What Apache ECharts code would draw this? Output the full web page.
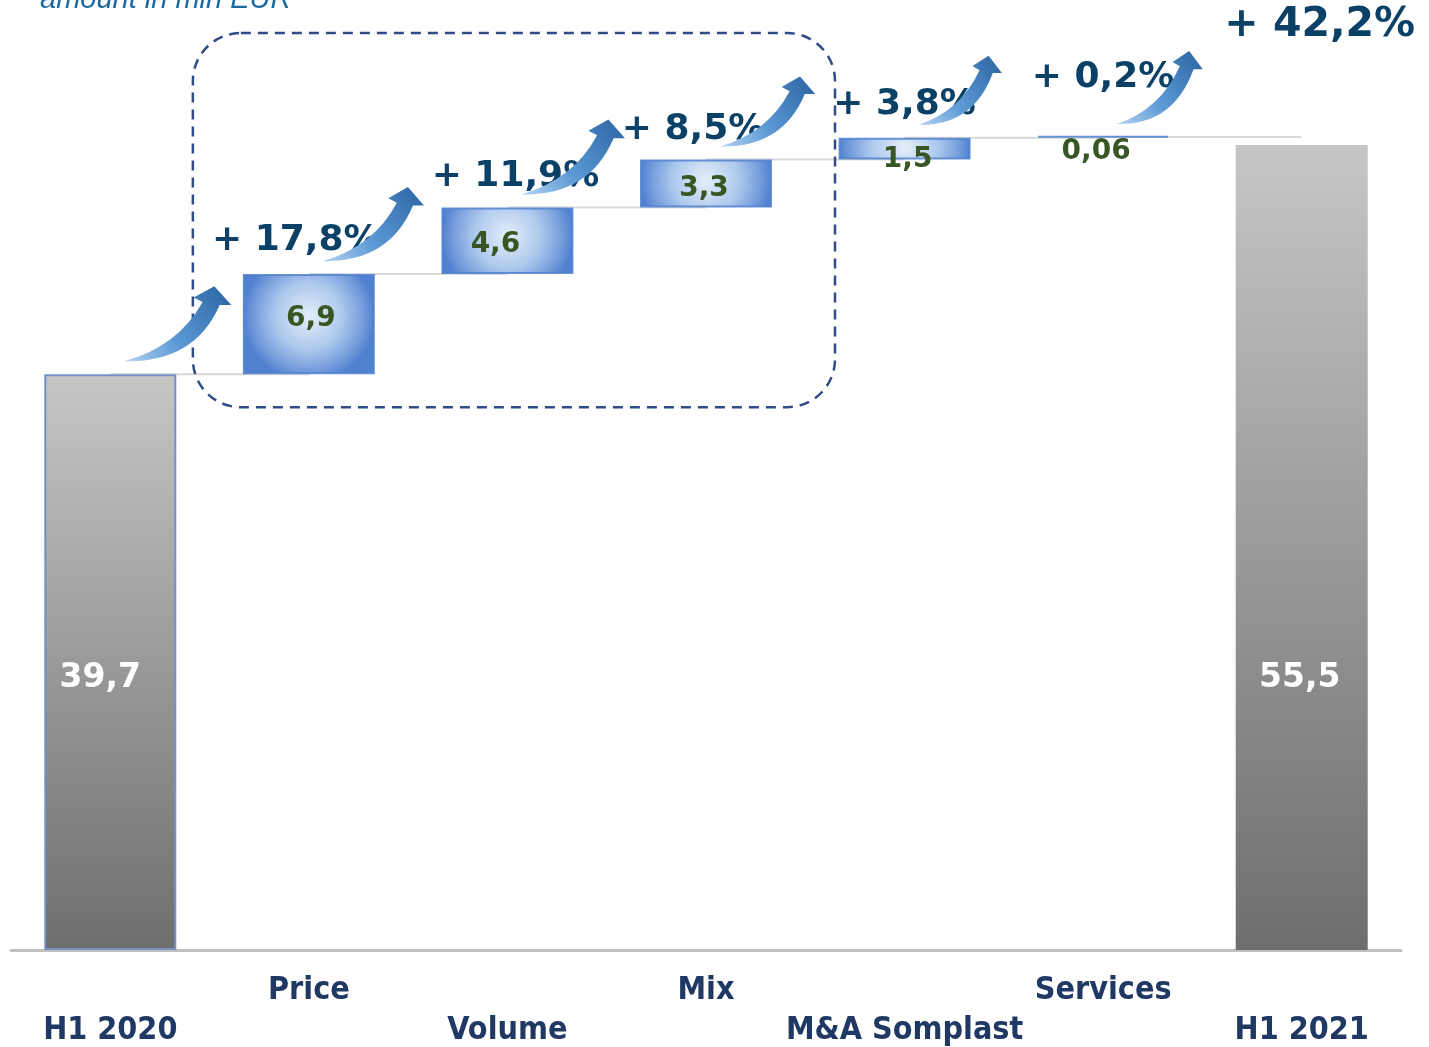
<!DOCTYPE html>
<html>
<head>
<meta charset="utf-8">
<script src="https://cdn.jsdelivr.net/npm/echarts@6/dist/echarts.min.js"></script>
<style>
  html, body { margin: 0; padding: 0; background: #fff; }
  #main { width: 1429px; height: 1047px; }
</style>
</head>
<body>
<div id="main"></div>
<script>
// data
const categories = ['H1 2020', 'Price', 'Volume', 'Mix', 'M&A Somplast', 'Services', 'H1 2021'];
const startValue = 39.7;
const deltas = [6.9, 4.6, 3.3, 1.5, 0.06];
const endValue = 55.5;
const valueLabels = ['39,7', '6,9', '4,6', '3,3', '1,5', '0,06', '55,5'];
const pctLabels = ['+ 17,8%', '+ 11,9%', '+ 8,5%', '+ 3,8%', '+ 0,2%', '+ 42,2%'];

// layout tweaks (pixels), not data
const pctOffsets = [[-13, -33], [8, -31], [-13, -30], [0, -33], [0, -59], [18, -120]];
const arrowSizes = [[90, 75], [85, 74], [87, 75], [80, 70], [70, 69], [72, 73]];
const valueOffsets = [[-10, 0], [2, -5], [-12, 4], [-2, 5], [3, 11], [-7, 15], [-2, 0]];

const FONT = '"DejaVu Sans", Verdana, sans-serif';
const NAVY = '#0b4166';
const Y_MAX = 65.5;
const PLOT_H = 950;
const BAR_W = 132;

// waterfall bases/tops built from the values
const bases = [0];
const tops = [startValue];
let run = startValue;
deltas.forEach(d => { bases.push(run); run += d; tops.push(run); });
bases.push(0);
tops.push(endValue);
const heights = [startValue, ...deltas, endValue];

const grayFill = new echarts.graphic.LinearGradient(0, 0, 0, 1, [
  { offset: 0, color: '#c6c6c6' },
  { offset: 1, color: '#6e6e6e' }
]);
// radial glow whose radius is half the bar width, so the sides reach full blue
const blueFill = (v) => {
  const h = Math.max(2, v * PLOT_H / Y_MAX);
  const r = (BAR_W / 2) / Math.min(BAR_W, h);
  return new echarts.graphic.RadialGradient(0.5, 0.42, r, [
    { offset: 0, color: '#e4eefa' },
    { offset: 0.5, color: '#adc9ed' },
    { offset: 0.85, color: '#7099da' },
    { offset: 1, color: '#5080d0' }
  ]);
};

const barData = heights.map((v, i) => {
  const isTotal = i === 0 || i === heights.length - 1;
  return {
    value: v,
    itemStyle: isTotal
      ? { color: grayFill, borderColor: i === 0 ? '#7591c6' : 'rgba(0,0,0,0)', borderWidth: i === 0 ? 2 : 0 }
      : { color: blueFill(v), borderColor: 'rgba(80,128,208,0.85)', borderWidth: 2 },
    label: isTotal
      ? { show: true, position: 'insideBottom', distance: 255, offset: valueOffsets[i],
          formatter: valueLabels[i], color: '#ffffff', fontSize: 33, fontWeight: 'bold', fontFamily: FONT }
      : { show: true, position: 'inside', offset: valueOffsets[i],
          formatter: valueLabels[i], color: '#375623', fontSize: 28, fontWeight: 'bold', fontFamily: FONT }
  };
});

function arrowPath(tx, ty, w, h) {
  const p = (u, v) => (tx + u * w).toFixed(1) + ' ' + (ty - (1 - v) * h).toFixed(1);
  return 'M' + p(0, 1) +
    ' Q' + p(0.78, 1.02) + ' ' + p(1.06, 0.25) +
    ' L' + p(1.19, 0.25) +
    ' L' + p(1.0, 0) +
    ' L' + p(0.77, 0.15) +
    ' L' + p(0.87, 0.21) +
    ' Q' + p(0.6, 0.8) + ' ' + p(0, 1) + ' Z';
}

const connectorData = tops.slice(0, tops.length - 1).map((t, i) => [i, t]);
const pctData = pctLabels.map((s, k) => [k + 1, tops[k + 1], tops[k], k]);

const chart = echarts.init(document.getElementById('main'));
chart.setOption({
  animation: false,
  grid: { left: 11, right: 28, top: 0, bottom: 97 },
  graphic: [{
    type: 'text', left: 40, top: -15,
    style: { text: 'amount in mln EUR', fontSize: 29, fontStyle: 'italic', fontFamily: '"Liberation Sans", Arial, sans-serif', fill: '#1a6aa0' }
  }],
  xAxis: {
    type: 'category',
    data: categories,
    axisLine: { lineStyle: { color: '#c0c0c0', width: 3 } },
    axisTick: { show: false },
    axisLabel: {
      interval: 0,
      margin: 25,
      formatter: (v, idx) => (idx % 2 ? '{hi|' + v + '}' : '{lo|' + v + '}'),
      rich: {
        hi: { fontSize: 32, fontWeight: 'bold', fontFamily: '"DejaVu Sans Condensed", ' + FONT, color: '#1f3864' },
        lo: { fontSize: 32, fontWeight: 'bold', fontFamily: '"DejaVu Sans Condensed", ' + FONT, color: '#1f3864', padding: [40, 0, 0, 0] }
      }
    }
  },
  yAxis: { type: 'value', min: 0, max: Y_MAX, show: false, splitLine: { show: false } },
  series: [
    {
      type: 'custom',
      z: 1,
      silent: true,
      data: connectorData,
      renderItem: (params, api) => {
        const a = api.coord([api.value(0), api.value(1)]);
        const b = api.coord([api.value(0) + 1, api.value(1)]);
        return { type: 'line', shape: { x1: a[0], y1: a[1], x2: b[0], y2: b[1] },
          style: { stroke: '#d9d9d9', lineWidth: 2 } };
      }
    },
    {
      type: 'bar', stack: 'w', barWidth: BAR_W, z: 2, silent: true,
      itemStyle: { color: 'rgba(0,0,0,0)' },
      data: bases
    },
    {
      type: 'bar', stack: 'w', barWidth: BAR_W, z: 2, barMinHeight: 2,
      data: barData
    },
    {
      // dashed frame round Price .. Mix
      type: 'custom',
      z: 3,
      silent: true,
      data: [[1, 3, startValue]],
      renderItem: (params, api) => {
        const l = api.coord([api.value(0), 0])[0] - 116;
        const r = api.coord([api.value(1), 0])[0] + 129;
        const t = params.coordSys.y + 33;
        const b = api.coord([0, api.value(2)])[1] + 33;
        return { type: 'rect', shape: { x: l, y: t, width: r - l, height: b - t, r: 48 },
          style: { fill: null, stroke: '#2f4c88', lineWidth: 2.5, lineDash: [10, 7] } };
      }
    },
    {
      // growth arrows and percentages
      type: 'custom',
      z: 4,
      silent: true,
      data: pctData,
      renderItem: (params, api) => {
        const k = params.dataIndex;
        const c = api.coord([api.value(0), api.value(1)]);
        const p = api.coord([api.value(3), api.value(2)]);
        const sz = arrowSizes[k];
        const off = pctOffsets[k];
        return {
          type: 'group',
          children: [
            {
              type: 'path',
              shape: { pathData: arrowPath(p[0] + 14, p[1] - 13, sz[0], sz[1]) },
              style: {
                fill: new echarts.graphic.LinearGradient(0, 1, 1, 0, [
                  { offset: 0, color: '#b4d3f2' },
                  { offset: 0.4, color: '#5d9ad6' },
                  { offset: 1, color: '#2b64a0' }
                ])
              }
            },
            {
              type: 'text',
              style: {
                text: pctLabels[k], x: c[0] + off[0], y: c[1] + off[1],
                align: 'center', verticalAlign: 'middle',
                fontSize: k === pctLabels.length - 1 ? 41 : 36, fontWeight: 'bold', fontFamily: FONT, fill: NAVY
              }
            }
          ]
        };
      }
    }
  ]
});
</script>
</body>
</html>
